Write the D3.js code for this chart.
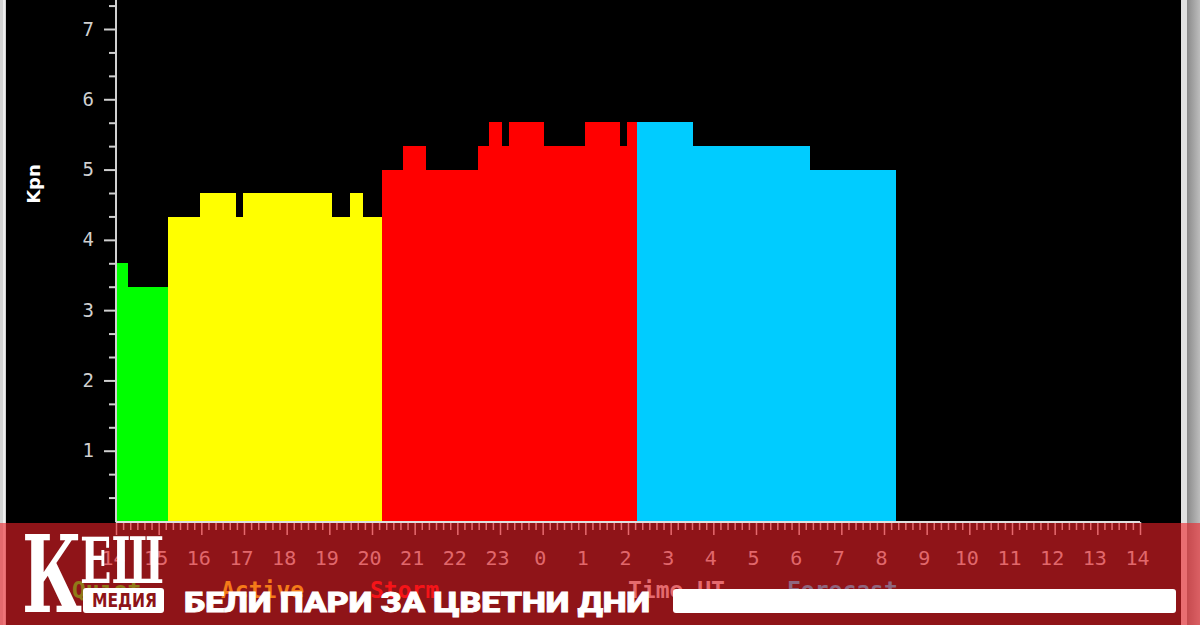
<!DOCTYPE html>
<html><head><meta charset="utf-8">
<script src="https://cdn.jsdelivr.net/npm/d3@7"></script>
<style>html,body{margin:0;padding:0;background:#000;overflow:hidden}svg{display:block}</style>
</head><body>
<script>
// ---- data ----
const stepStarts = [14.00, 14.27, 15.22, 15.97, 16.79, 16.98, 19.04, 19.48, 19.77, 20.23, 20.73, 21.26, 22.49, 22.75, 23.04, 23.22, 24.03, 24.99, 25.80, 25.97, 26.20, 27.51, 30.26];
const kpValues   = [3.67, 3.33, 4.33, 4.67, 4.33, 4.67, 4.33, 4.67, 4.33, 5.00, 5.33, 5.00, 5.33, 5.67, 5.33, 5.67, 5.33, 5.67, 5.33, 5.67, 5.67, 5.33, 5.00];
const seriesEnd = 32.27;
const forecastStart = 26.20;
const hourTicks = [14,15,16,17,18,19,20,21,22,23,24,25,26,27,28,29,30,31,32,33,34,35,36,37,38];
const hourLabels = ["14","15","16","17","18","19","20","21","22","23","0","1","2","3","4","5","6","7","8","9","10","11","12","13","14"];
const kpTicks = [1,2,3,4,5,6,7];
const legendLabels = ["Quiet","Active","Storm","Time UT","Forecast"];
const titleText = "БЕЛИ ПАРИ ЗА ЦВЕТНИ ДНИ";

const W = 1200, H = 625;
const svg = d3.select("body").append("svg").attr("width", W).attr("height", H);
svg.append("rect").attr("width", W).attr("height", H).attr("fill", "#000");

// frame edges
svg.append("rect").attr("x",0).attr("y",0).attr("width",6).attr("height",H).attr("fill","#d4d4d4");
svg.append("rect").attr("x",3).attr("y",0).attr("width",2).attr("height",H).attr("fill","#efefef");
const defs = svg.append("defs");
const g1 = defs.append("linearGradient").attr("id","rg").attr("x1","0").attr("x2","1");
g1.append("stop").attr("offset","0").attr("stop-color","#8a8a8a");
g1.append("stop").attr("offset","1").attr("stop-color","#bdbdbd");
svg.append("rect").attr("x",1181).attr("y",0).attr("width",6).attr("height",H).attr("fill","#e2e2e2");
svg.append("rect").attr("x",1187).attr("y",0).attr("width",13).attr("height",H).attr("fill","url(#rg)");

// scales
const x = d3.scaleLinear().domain([14, 38]).range([116, 1140]);
const y = d3.scaleLinear().domain([0, 7]).range([521, 29]);

function colorFor(start, kp) {
  if (start >= forecastStart - 1e-9) return "#00ccff";
  if (kp >= 5) return "#ff0000";
  if (kp >= 4) return "#ffff00";
  return "#00ff00";
}
const steps = stepStarts.map((s, i) => ({
  s, e: i < stepStarts.length - 1 ? stepStarts[i+1] : seriesEnd, kp: kpValues[i]
}));
svg.append("g").attr("shape-rendering","crispEdges")
  .selectAll("rect").data(steps).join("rect")
  .attr("x", d => x(d.s)).attr("width", d => x(d.e) - x(d.s) + 0.5)
  .attr("y", d => y(d.kp)).attr("height", d => y(0) - y(d.kp) + 1)
  .attr("fill", d => colorFor(d.s, d.kp));

// y axis
const yMinor = d3.range(0, 23).map(i => i/3).filter(v => Math.abs(v - Math.round(v)) > 0.01);
const yAx = svg.append("g").attr("transform","translate(116,0)");
yAx.call(d3.axisLeft(y).tickValues(kpTicks).tickSize(12).tickPadding(10).tickFormat(d3.format("d")));
yAx.select(".domain").remove();
yAx.selectAll(".tick line").attr("stroke","#cfcfcf").attr("stroke-width",2);
yAx.selectAll(".tick text").attr("fill","#d0d0d0").attr("font-family","DejaVu Sans Mono").attr("font-size",19);
const yAx2 = svg.append("g").attr("transform","translate(116,0)");
yAx2.call(d3.axisLeft(y).tickValues(yMinor).tickSize(7).tickFormat(""));
yAx2.select(".domain").remove();
yAx2.selectAll(".tick line").attr("stroke","#cfcfcf").attr("stroke-width",2);
svg.append("line").attr("x1",116).attr("x2",116).attr("y1",0).attr("y2",y(0)+1)
  .attr("stroke","#d0d0d0").attr("stroke-width",2);

svg.append("text").attr("transform","translate(40,184) rotate(-90)")
  .attr("text-anchor","middle").attr("fill","#fff").attr("font-family","DejaVu Sans")
  .attr("font-weight","bold").attr("font-size",18).text("Kpn");

// x axis
const xMinor = d3.range(14*6, 38*6+1).map(i => i/6).filter(v => Math.abs(v - Math.round(v)) > 0.01);
const xAx2 = svg.append("g").attr("transform","translate(0,522)");
xAx2.call(d3.axisBottom(x).tickValues(xMinor).tickSize(8).tickFormat(""));
xAx2.select(".domain").remove();
xAx2.selectAll(".tick line").attr("stroke","#d8d8d8").attr("stroke-width",1.5);
const xAx = svg.append("g").attr("transform","translate(0,522)");
xAx.call(d3.axisBottom(x).tickValues(hourTicks).tickSize(13).tickPadding(16)
  .tickFormat((d, i) => hourLabels[i]));
xAx.select(".domain").remove();
xAx.selectAll(".tick line").attr("stroke","#d8d8d8").attr("stroke-width",1.5);
xAx.selectAll(".tick text").attr("fill","#d0d0d0").attr("font-family","DejaVu Sans Mono")
  .attr("font-size",20).attr("dx",-3);
svg.append("line").attr("x1",116).attr("x2",1140).attr("y1",522).attr("y2",522)
  .attr("stroke","#e0e0e0").attr("stroke-width",2);

// legend (below axis)
const legendX = [72, 221, 370, 628, 787];
const legendColors = ["#00ff00","#ffff00","#ff0000","#d8d8d8","#00ccff"];
svg.append("g").selectAll("text").data(legendLabels).join("text")
  .attr("x", (d,i) => legendX[i]).attr("y", 598)
  .attr("fill", (d,i) => legendColors[i]).attr("font-family","DejaVu Sans Mono")
  .attr("font-weight","bold").attr("font-size",23).text(d => d);

// banner overlay
svg.append("rect").attr("x",0).attr("y",523).attr("width",W).attr("height",H-523)
  .attr("fill","rgb(238,33,40)").attr("fill-opacity",0.6);

// logo
svg.append("text").attr("x",22).attr("y",612).attr("fill","#fff")
  .attr("font-family","DejaVu Serif").attr("font-weight","bold").attr("font-size",106)
  .attr("textLength",60).attr("lengthAdjust","spacingAndGlyphs").text("К");
svg.append("text").attr("x",80).attr("y",583).attr("fill","#fff")
  .attr("font-family","DejaVu Serif").attr("font-weight","bold").attr("font-size",63)
  .attr("textLength",84).attr("lengthAdjust","spacingAndGlyphs").text("ЕШ");
svg.append("rect").attr("x",83).attr("y",588).attr("width",81).attr("height",25).attr("rx",3)
  .attr("fill","#fff");
svg.append("text").attr("x",92).attr("y",607).attr("fill","#8e1418")
  .attr("font-family","DejaVu Sans").attr("font-weight","bold").attr("font-size",19)
  .attr("textLength",65).attr("lengthAdjust","spacingAndGlyphs").text("МЕДИЯ");

// title
svg.append("text").attr("x",184).attr("y",612).attr("fill","#fff")
  .attr("stroke","#fff").attr("stroke-width",0.8)
  .attr("font-family","Roboto").attr("font-weight",900).attr("font-size",28)
  .attr("textLength",466).attr("lengthAdjust","spacingAndGlyphs").text(titleText);
svg.append("rect").attr("x",673).attr("y",589).attr("width",503).attr("height",24).attr("rx",3)
  .attr("fill","#fff");
</script>
</body></html>
